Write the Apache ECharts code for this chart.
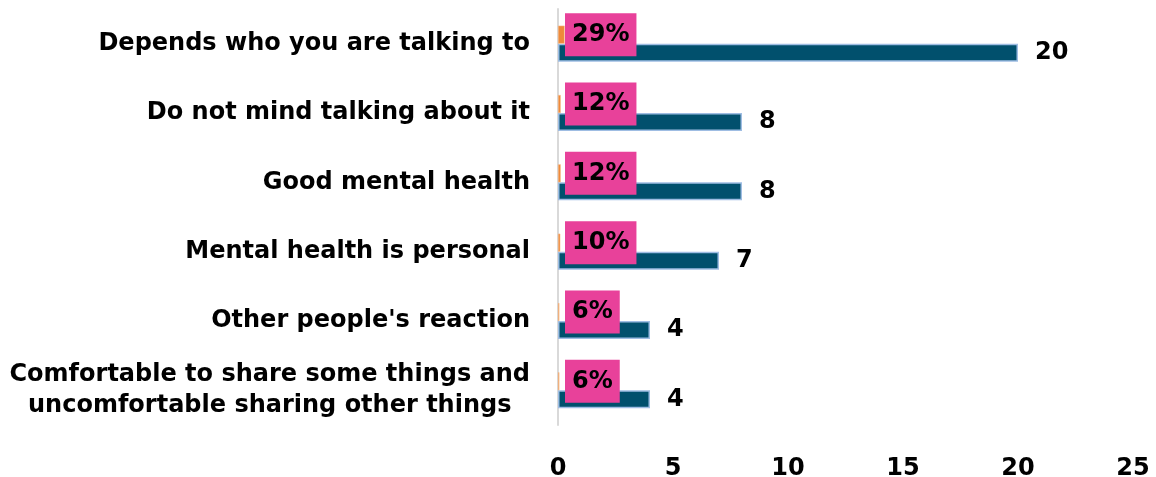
<!DOCTYPE html>
<html>
<head>
<meta charset="utf-8">
<script src="https://cdn.jsdelivr.net/npm/echarts@6/dist/echarts.min.js"></script>
<style>html,body{margin:0;padding:0;background:#fff}#c{width:1156px;height:477px}</style>
</head>
<body>
<div id="c"></div>
<script>
const categories = [
  "Depends who you are talking to",
  "Do not mind talking about it",
  "Good mental health",
  "Mental health is personal",
  "Other people's reaction",
  "Comfortable to share some things and\nuncomfortable sharing other things"
];
const counts = [20, 8, 8, 7, 4, 4];
const shares = [0.29, 0.12, 0.12, 0.10, 0.06, 0.06];
const xTicks = [0, 5, 10, 15, 20, 25];

const FONT = "DejaVu Sans";
const chart = echarts.init(document.getElementById('c'), null, {renderer: 'canvas'});
chart.setOption({
  animation: false,
  grid: {left: 558, right: 23, top: 9, bottom: 52, outerBoundsMode: 'none', containLabel: false},
  xAxis: {
    type: 'value', min: xTicks[0], max: xTicks[xTicks.length - 1], interval: 5,
    axisLine: {show: false}, axisTick: {show: false}, splitLine: {show: false},
    axisLabel: {margin: 32, fontFamily: FONT, fontWeight: 'bold', fontSize: 24, color: '#000'}
  },
  yAxis: {
    type: 'category', data: categories, inverse: true,
    axisLine: {show: true, lineStyle: {color: '#d9d9d9', width: 2}},
    axisTick: {show: false},
    axisLabel: {
      margin: 28, fontFamily: FONT, fontWeight: 'bold', fontSize: 24, color: '#000',
      lineHeight: 31,
      formatter: function (v) {
        if (v.indexOf('\n') >= 0) {
          return v.split('\n').map(function (s) { return '{c|' + s + '}'; }).join('\n');
        }
        return v;
      },
      rich: {c: {align: 'center', fontFamily: FONT, fontWeight: 'bold', fontSize: 24, color: '#000', lineHeight: 31}}
    }
  },
  series: [
    {
      name: 'share', type: 'bar', data: shares, barWidth: 18, barGap: '0%',
      itemStyle: {color: '#ee8a3a', borderColor: '#f6c39a', borderWidth: 0.5},
      z: 3,
      label: {
        show: true, position: 'insideLeft', distance: 7,
        formatter: function (p) { return Math.round(p.value * 100) + '%'; },
        backgroundColor: '#e8419a', padding: [10, 7, 9, 7],
        fontFamily: FONT, fontWeight: 'bold', fontSize: 24, color: '#000'
      }
    },
    {
      name: 'count', type: 'bar', data: counts, barWidth: 18, barGap: '0%',
      itemStyle: {color: '#01506d', borderColor: '#9fbde3', borderWidth: 1.5},
      label: {
        show: true, position: 'right', distance: 17,
        fontFamily: FONT, fontWeight: 'bold', fontSize: 24, color: '#000'
      }
    }
  ]
});
</script>
</body>
</html>
